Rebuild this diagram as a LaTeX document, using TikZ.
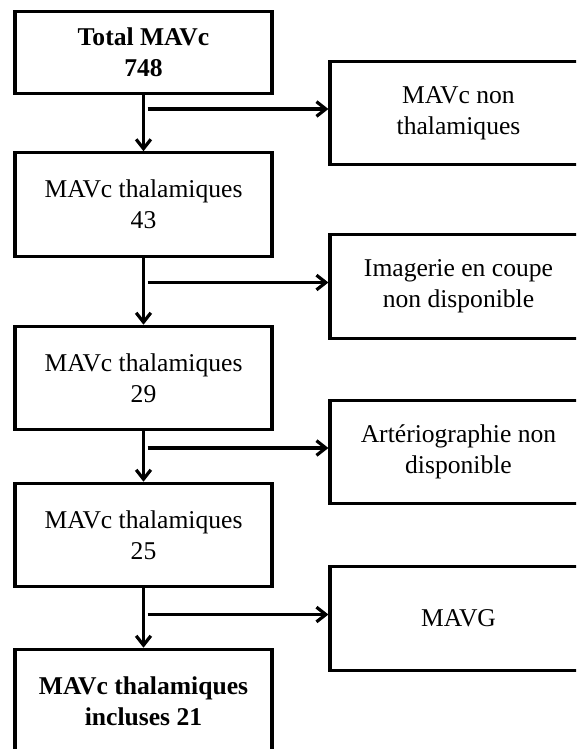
\documentclass[tikz,border=0pt]{standalone}
\usepackage{fontspec}
\setmainfont{Liberation Serif}
\usetikzlibrary{arrows.meta}

\begin{document}
\begin{tikzpicture}[x=0.75pt,y=-0.75pt,>={Straight Barb[length=7pt,width=11pt]},line width=2.4pt,
  every text node part/.style={align=center},
  every node/.style={font=\fontsize{19.2}{23.5}\selectfont},
  flow/.style={draw,rectangle,inner sep=0pt,minimum width=192.75pt,minimum height=77.5pt},
  mainflow/.style={flow,font=\fontsize{19.2}{23.5}\selectfont\bfseries},
  excl/.style={flow}]
  \useasboundingbox (0,0) rectangle (576,749);
  \clip (0,0) rectangle (576,749);
  \node[mainflow,minimum height=61.5pt] (m0) at (143.5,52.5) {Total MAVc\\748};
  \node[flow]  (m1)  at (143.5,204.5) {MAVc thalamiques\\43};
  \node[flow]  (m2)  at (143.5,378)   {MAVc thalamiques\\29};
  \node[flow]  (m3)  at (143.5,535)   {MAVc thalamiques\\25};
  \node[mainflow]  (m4)  at (143.5,701) {MAVc thalamiques\\incluses 21};
  \node[excl]  (e1)  at (458.5,113)   {MAVc non\\thalamiques};
  \node[excl]  (e2)  at (458.5,286.5) {Imagerie en coupe\\non disponible};
  \node[excl]  (e3)  at (458.5,452)   {Artériographie non\\disponible};
  \node[excl]  (e4)  at (458.5,618.5) {MAVG};
  \coordinate (j1) at ([yshift=3pt]e1.west);
  \coordinate (j2) at ([yshift=3pt]e2.west);
  \coordinate (j3) at ([yshift=3pt]e3.west);
  \coordinate (j4) at ([yshift=3pt]e4.west);
  \path[->] (m0) edge (m1);
  \path[->] (m1) edge (m2);
  \path[->] (m2) edge (m3);
  \path[->] (m3) edge (m4);
  \path[->] ([xshift=3pt]m0.south |- j1) edge (j1);
  \path[->] ([xshift=3pt]m1.south |- j2) edge (j2);
  \path[->] ([xshift=3pt]m2.south |- j3) edge (j3);
  \path[->] ([xshift=3pt]m3.south |- j4) edge (j4);
\end{tikzpicture}
\end{document}
